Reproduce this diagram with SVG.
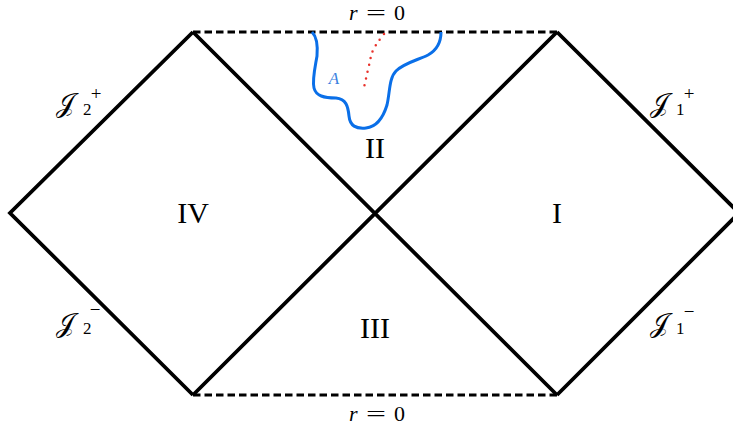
<svg xmlns="http://www.w3.org/2000/svg" width="733" height="427" viewBox="0 0 733 427">
<style>
.ln{stroke:#000;stroke-width:3.8;fill:none;stroke-linejoin:miter}
.ds{stroke:#000;stroke-width:3.2;fill:none;stroke-dasharray:7.5 4}
.rom{font-family:"Liberation Serif",serif;font-size:30px;fill:#000;text-anchor:middle}
.mth{font-family:"Liberation Serif",serif;font-size:22px;fill:#000}
.scr{font-family:"DejaVu Serif","Liberation Serif",serif;font-size:27px;fill:#000}
.sub{font-family:"Liberation Serif",serif;font-size:17px;fill:#000}
.sup{font-family:"Liberation Serif",serif;font-size:19px;fill:#000;text-anchor:middle}
</style>
<rect width="733" height="427" fill="#fff"/>
<g id="connectors">
<path class="ln" d="M193,32 L10,213 L193,395 M193,32 L557,395 M193,395 L557,32 M557,32 L739,213 L557,395"/>
<path class="ds" d="M193,32 H557"/>
<path class="ds" d="M193,395 H557"/>
</g>
<g id="curveA">
<path d="M312,32 C316,36 318,44 317,56 C315,68 312,80 314,88 C316,96 324,98 336,98 C346,99 348,106 349,116 C350,126 356,129 366,128 C376,127 383,118 387,105 C390,92 389,78 396,71 C404,63 418,60 428,55 C437,50 441,42 441,32" fill="none" stroke="#0a6fe8" stroke-width="3"/>
<path d="M384,34 C378,42 373,48 371,56 C369,66 366,78 363,92" fill="none" stroke="#e8312a" stroke-width="2.5" stroke-linecap="round" stroke-dasharray="0 7"/>
<text x="334" y="84" font-family="Liberation Serif,serif" font-style="italic" font-size="17" fill="#3a7fe0" text-anchor="middle">A</text>
</g>
<g id="regionII"><text class="rom" x="375" y="158">II</text></g>
<g id="regionIV"><text class="rom" x="193" y="223">IV</text></g>
<g id="regionI"><text class="rom" x="557" y="223">I</text></g>
<g id="regionIII"><text class="rom" x="375" y="338">III</text></g>
<g id="labelTop"><text class="mth" x="349" y="20" font-style="italic">r</text><text class="mth" x="366" y="20" textLength="20" lengthAdjust="spacingAndGlyphs">=</text><text class="mth" x="394" y="20">0</text></g>
<g id="labelBottom"><text class="mth" x="349" y="421" font-style="italic">r</text><text class="mth" x="366" y="421" textLength="20" lengthAdjust="spacingAndGlyphs">=</text><text class="mth" x="394" y="421">0</text></g>
<g id="scriJ2p"><text class="scr" x="56" y="112">𝒥</text><text class="sub" x="83" y="115">2</text><text class="sup" x="96" y="100">+</text></g>
<g id="scriJ2m"><text class="scr" x="56" y="332">𝒥</text><text class="sub" x="83" y="334">2</text><text class="sup" x="95" y="316">−</text></g>
<g id="scriJ1p"><text class="scr" x="650" y="112">𝒥</text><text class="sub" x="676" y="115">1</text><text class="sup" x="689" y="100">+</text></g>
<g id="scriJ1m"><text class="scr" x="650" y="332">𝒥</text><text class="sub" x="676" y="334">1</text><text class="sup" x="689" y="318">−</text></g>
</svg>
